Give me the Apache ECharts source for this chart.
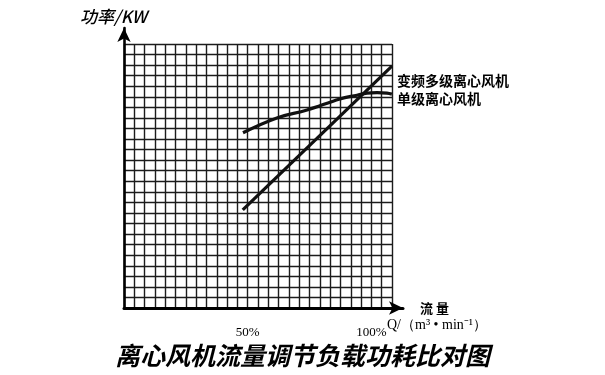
<!DOCTYPE html>
<html>
<head>
<meta charset="utf-8">
<script src="https://cdn.jsdelivr.net/npm/echarts@6/dist/echarts.min.js"></script>
<style>
html,body{margin:0;padding:0;background:#fff;}
#chart{width:605px;height:375px;}
</style>
</head>
<body>
<div id="chart"></div>
<script>
// ---- data ----
const chartTitle = '离心风机流量调节负载功耗比对图';
const yAxisName = '功率/KW';
const xAxisName = '流 量';
const xUnitText = 'Q/（m³ • min⁻¹）';
const xTickValues = [50, 100];          // percent of rated flow shown on axis
const seriesNames = ['变频多级离心风机', '单级离心风机'];
// flow in % of rated flow, power in grid units
const varFreqFlow = [48.0, 108.3];
const varFreqPower = [9.3, 22.9];
const singleFlow = [48.1, 61.8, 74.0, 87.3, 94.2, 98.2, 102.3, 106.3, 108.3];
const singlePower = [16.6, 18.0, 18.75, 19.8, 20.15, 20.35, 20.4, 20.35, 20.25];
// grid of squares: 26 columns (24 columns = 100%), 25 rows
const gridCols = 26;
const gridRows = 25;
const colsPer100 = 24;

const xMax = gridCols * 100 / colsPer100;
const zip = (a, b) => a.map((v, i) => [v, b[i]]);

const chart = echarts.init(document.getElementById('chart'), null, {renderer: 'canvas'});
const lineColor = '#111';
const hidden = {show: false};

chart.setOption({
  backgroundColor: '#fff',
  animation: false,
  title: [
    {text: chartTitle, left: 'center', top: 343, padding: 0,
     textStyle: {fontFamily: 'Noto Sans CJK SC', fontSize: 25, fontWeight: 'bold', fontStyle: 'italic', color: '#000'}},
    {text: yAxisName, left: 80, top: 8, padding: 0,
     textStyle: {fontFamily: 'Noto Sans CJK SC', fontSize: 17, fontWeight: 500, fontStyle: 'italic', color: '#000'}},
    {text: xUnitText, left: 387, top: 318, padding: 0,
     textStyle: {fontFamily: 'Liberation Serif', fontSize: 14, fontWeight: 'normal', color: '#000'}}
  ],
  grid: [
    {left: 124, top: 44, width: 268, height: 264},
    {left: 124, top: 28, width: 279, height: 280}
  ],
  xAxis: [
    {gridIndex: 0, type: 'value', min: 0, max: gridCols, interval: 1,
     axisLine: hidden, axisTick: hidden, axisLabel: hidden,
     splitLine: {show: true, lineStyle: {color: '#1c1c1c', width: 1.4}}},
    {gridIndex: 0, type: 'value', min: 0, max: xMax, interval: 50, position: 'bottom',
     axisLine: hidden, axisTick: hidden, splitLine: hidden,
     axisLabel: {show: true, margin: 18, showMinLabel: true, showMaxLabel: true,
       fontFamily: 'Liberation Serif', fontSize: 13, color: '#000',
       formatter: v => (xTickValues.indexOf(Math.round(v)) >= 0 && Math.abs(v - Math.round(v)) < 1e-6) ? Math.round(v) + '%' : ''}},
    {gridIndex: 1, type: 'value', min: 0, max: 1,
     axisLine: {show: true, symbol: ['none', 'arrow'], symbolSize: [10, 14], lineStyle: {color: '#000', width: 3}},
     axisTick: hidden, axisLabel: hidden, splitLine: hidden,
     name: xAxisName, nameLocation: 'end', nameGap: 17,
     nameTextStyle: {fontFamily: 'Noto Sans CJK SC', fontSize: 13, fontWeight: 'bold', color: '#000'}}
  ],
  yAxis: [
    {gridIndex: 0, type: 'value', min: 0, max: gridRows, interval: 1,
     axisLine: hidden, axisTick: hidden, axisLabel: hidden,
     splitLine: {show: true, lineStyle: {color: '#1c1c1c', width: 1.4}}},
    {gridIndex: 1, type: 'value', min: 0, max: 1,
     axisLine: {show: true, symbol: ['none', 'arrow'], symbolSize: [10, 14], lineStyle: {color: '#000', width: 2.6}},
     axisTick: hidden, axisLabel: hidden, splitLine: hidden}
  ],
  series: [
    {name: seriesNames[0], type: 'line', xAxisIndex: 1, yAxisIndex: 0,
     data: zip(varFreqFlow, varFreqPower), showSymbol: false, symbol: 'none',
     lineStyle: {color: lineColor, width: 3.2}, silent: true,
     endLabel: {show: true, formatter: '{a}', distance: 5, offset: [0, 15],
       fontFamily: 'Noto Sans CJK SC', fontSize: 14, fontWeight: 'bold', color: '#000'}},
    {name: seriesNames[1], type: 'line', xAxisIndex: 1, yAxisIndex: 0,
     data: zip(singleFlow, singlePower), smooth: 0.4, showSymbol: false, symbol: 'none',
     lineStyle: {color: lineColor, width: 3.2}, silent: true,
     endLabel: {show: true, formatter: '{a}', distance: 5, offset: [0, 5],
       fontFamily: 'Noto Sans CJK SC', fontSize: 14, fontWeight: 'bold', color: '#000'}}
  ]
});
</script>
</body>
</html>
